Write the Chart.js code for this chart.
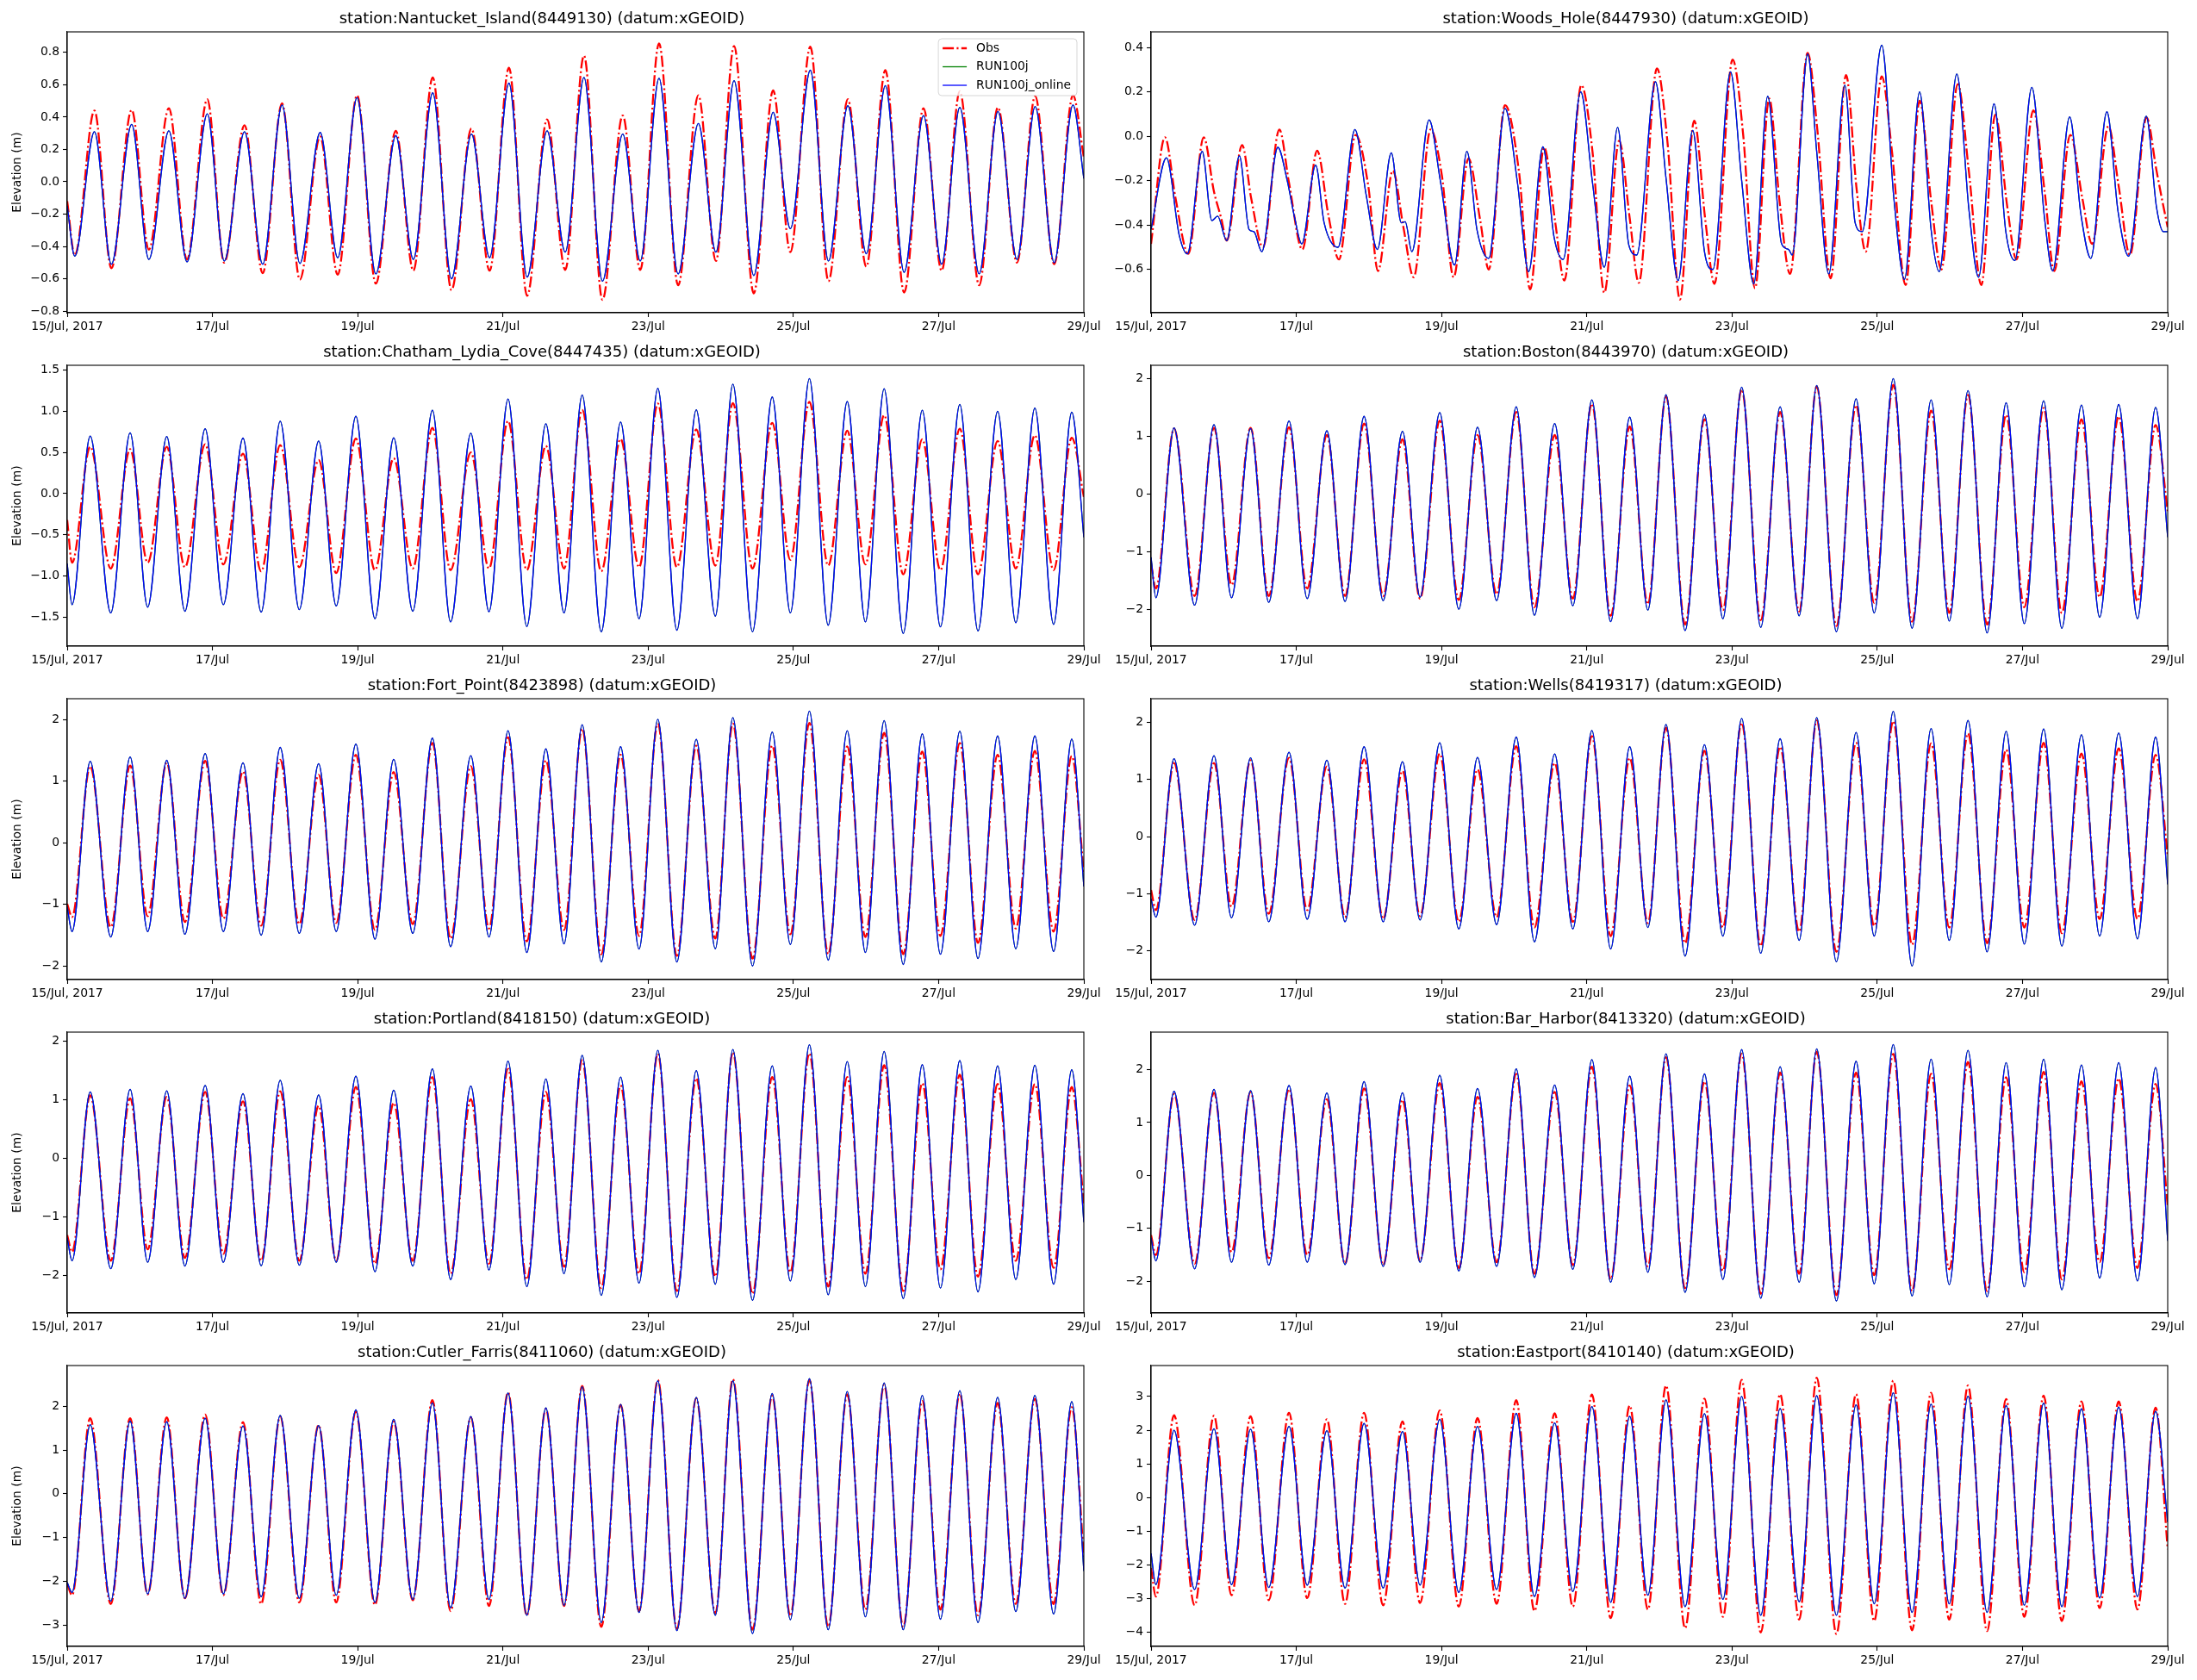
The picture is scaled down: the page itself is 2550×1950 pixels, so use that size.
<!DOCTYPE html>
<html>
<head>
<meta charset="utf-8">
<script src="https://cdn.jsdelivr.net/npm/chart.js@4.4.1/dist/chart.umd.min.js"></script>
<style>
  body { margin: 0; background: #fff; width: 2550px; height: 1950px; overflow: hidden; position: relative; }
  canvas { position: absolute; }
</style>
</head>
<body>
<script>
// x axis: hours since 15 Jul 2017 00:00
const dayHours = [0, 48, 96, 144, 192, 240, 288, 336];
const dayLabels = ['15/Jul, 2017', '17/Jul', '19/Jul', '21/Jul', '23/Jul', '25/Jul', '27/Jul', '29/Jul'];
const seriesNames = ['Obs', 'RUN100j', 'RUN100j_online'];

// times of low / high water (start, L, H, L, H ..., end)
const gomHours = [0, 1.6, 7.6, 14.4, 20.8, 26.6, 32.9, 38.9, 45.6, 51.6, 58.1, 64.1, 70.4, 76.7, 83.1, 88.9, 95.4,
  101.7, 107.9, 114.2, 120.7, 126.7, 133.4, 139.4, 145.7, 151.9, 158.2, 164.2, 170.2, 176.5, 182.9, 189.0, 195.2,
  201.5, 207.9, 214.2, 220.0, 226.5, 233.0, 239.0, 245.3, 251.5, 257.8, 263.8, 270.0, 276.3, 282.6, 288.6, 295.0,
  301.0, 307.5, 313.5, 319.8, 326.0, 332.0, 336];
const nantucketHours = [0, 2.5, 9.0, 14.6, 21.3, 27.0, 33.6, 39.6, 46.3, 51.9, 58.6, 64.6, 71.0, 76.9, 83.6, 89.4, 95.8,
  102.0, 108.6, 114.4, 120.8, 127.0, 133.6, 139.6, 146.0, 152.0, 158.6, 164.6, 170.8, 176.9, 183.6, 189.4, 195.6,
  201.9, 208.6, 214.4, 220.4, 226.9, 233.3, 239.0, 245.6, 251.6, 258.0, 264.1, 270.4, 276.6, 283.0, 289.0, 295.0,
  301.4, 307.6, 313.9, 319.9, 326.2, 332.4, 336];

const nantucketObs = [-0.12, -0.455, 0.44, -0.535, 0.445, -0.42, 0.455, -0.48, 0.51, -0.50, 0.35, -0.565, 0.485, -0.605, 0.28,
  -0.575, 0.535, -0.63, 0.315, -0.55, 0.645, -0.67, 0.33, -0.55, 0.705, -0.705, 0.385, -0.545, 0.78, -0.73, 0.41, -0.545, 0.855,
  -0.64, 0.535, -0.49, 0.84, -0.69, 0.565, -0.435, 0.835, -0.615, 0.51, -0.525, 0.69, -0.685, 0.455, -0.55, 0.56, -0.64, 0.46,
  -0.50, 0.53, -0.51, 0.535, 0.15];
const nantucketModel = [-0.15, -0.46, 0.31, -0.51, 0.355, -0.48, 0.315, -0.495, 0.42, -0.49, 0.31, -0.51, 0.475, -0.505, 0.305,
  -0.47, 0.52, -0.57, 0.285, -0.48, 0.55, -0.60, 0.295, -0.47, 0.61, -0.59, 0.315, -0.435, 0.645, -0.615, 0.295, -0.49, 0.64,
  -0.57, 0.36, -0.435, 0.625, -0.58, 0.43, -0.29, 0.69, -0.49, 0.47, -0.445, 0.595, -0.56, 0.41, -0.51, 0.46, -0.57, 0.435,
  -0.48, 0.465, -0.50, 0.475, 0.02];

// Woods Hole has shoulders on the ebb, so it keeps its own points
const woodsObsHours = [0, 4.6, 8.1, 12.3, 17.4, 20.8, 23.2, 25.0, 30.1, 33.1, 37.0, 42.4, 45.6, 50.0, 54.9, 58.6, 62.1,
  67.6, 71.8, 75.0, 79.9, 83.4, 86.8, 92.4, 96.1, 100.0, 104.9, 108.8, 111.6, 117.0, 121.6, 125.3, 129.9, 133.6, 136.6,
  142.2, 145.9, 149.8, 154.7, 158.2, 161.2, 167.2, 170.7, 174.8, 179.5, 183.2, 186.2, 192.2, 195.7, 199.6, 204.3, 207.7,
  211.2, 217.0, 220.2, 224.6, 229.7, 233.2, 236.2, 241.5, 244.8, 249.4, 254.0, 257.8, 261.2, 266.6, 270.3, 274.4, 279.0,
  283.0, 286.0, 291.6, 295.3, 298.5, 303.8, 307.8, 311.0, 316.4, 319.8, 323.5, 329.0, 332.3, 334.2, 336];
const woodsObs = [-0.485, -0.005, -0.28, -0.53, -0.005, -0.25, -0.37, -0.47, -0.04, -0.28, -0.50, 0.03, -0.21, -0.51,
  -0.065, -0.355, -0.555, 0.006, -0.225, -0.607, -0.155, -0.41, -0.635, 0.03, -0.175, -0.635, -0.10, -0.38, -0.60, 0.14,
  -0.16, -0.69, -0.05, -0.39, -0.65, 0.23, -0.07, -0.705, -0.02, -0.37, -0.66, 0.305, -0.03, -0.735, 0.07, -0.38, -0.665,
  0.345, 0.006, -0.685, 0.17, -0.29, -0.62, 0.375, 0.03, -0.64, 0.275, -0.24, -0.52, 0.27, -0.06, -0.67, 0.16, -0.29, -0.60,
  0.235, -0.16, -0.67, 0.097, -0.32, -0.555, 0.116, -0.245, -0.607, 0.006, -0.28, -0.485, 0.045, -0.225, -0.535, 0.084,
  -0.155, -0.29, -0.41];
const woodsModelHours = [0, 5.1, 9.3, 12.0, 16.9, 20.1, 22.0, 25.0, 29.2, 32.4, 34.0, 36.6, 41.9, 45.0, 47.5, 49.8, 54.4,
  57.2, 61.8, 67.4, 71.1, 74.8, 79.4, 82.7, 84.0, 86.2, 91.9, 95.6, 100.3, 104.4, 107.7, 111.6, 117.0, 121.1, 124.8, 129.5,
  133.2, 136.2, 142.0, 145.9, 149.8, 154.2, 157.9, 160.5, 166.7, 170.2, 174.2, 179.0, 182.9, 185.7, 191.5, 195.2, 199.2,
  203.8, 208.4, 210.7, 211.9, 217.0, 220.0, 224.0, 229.3, 232.7, 235.0, 241.5, 245.5, 249.0, 254.0, 257.8, 260.5, 266.3,
  270.3, 273.5, 278.6, 282.5, 285.5, 291.1, 295.3, 298.0, 303.6, 307.3, 310.6, 315.9, 319.6, 323.1, 328.9, 332.3, 334.6, 336];
const woodsModel = [-0.42, -0.097, -0.445, -0.53, -0.068, -0.38, -0.36, -0.47, -0.088, -0.42, -0.43, -0.52, -0.05, -0.20,
  -0.37, -0.485, -0.13, -0.39, -0.50, 0.03, -0.265, -0.51, -0.075, -0.39, -0.385, -0.52, 0.074, -0.20, -0.58, -0.068, -0.42,
  -0.55, 0.125, -0.21, -0.61, -0.048, -0.455, -0.555, 0.20, -0.21, -0.59, 0.04, -0.49, -0.535, 0.245, -0.19, -0.65, 0.026,
  -0.52, -0.60, 0.29, -0.20, -0.665, 0.18, -0.485, -0.51, -0.535, 0.37, -0.07, -0.62, 0.23, -0.39, -0.43, 0.41, -0.28,
  -0.645, 0.20, -0.42, -0.61, 0.28, -0.33, -0.635, 0.146, -0.43, -0.56, 0.22, -0.37, -0.607, 0.087, -0.35, -0.55, 0.11,
  -0.34, -0.54, 0.09, -0.32, -0.43, -0.43];

const chathamObs = [-0.32, -0.84, 0.57, -0.91, 0.54, -0.84, 0.57, -0.895, 0.60, -0.86, 0.485, -0.945, 0.59, -0.895, 0.41,
  -0.965, 0.67, -0.93, 0.43, -0.91, 0.80, -0.93, 0.50, -0.91, 0.885, -0.93, 0.58, -0.91, 1.02, -0.945, 0.665, -0.895, 1.095,
  -0.895, 0.78, -0.875, 1.10, -0.91, 0.86, -0.805, 1.115, -0.875, 0.765, -0.86, 0.955, -0.98, 0.66, -0.93, 0.79, -0.98, 0.64,
  -0.91, 0.71, -0.93, 0.68, -0.04];
const chathamModel = [-0.85, -1.35, 0.70, -1.45, 0.74, -1.38, 0.695, -1.43, 0.79, -1.35, 0.675, -1.44, 0.88, -1.41, 0.64,
  -1.365, 0.94, -1.52, 0.68, -1.43, 1.015, -1.56, 0.735, -1.435, 1.15, -1.615, 0.85, -1.45, 1.20, -1.68, 0.87, -1.52, 1.28,
  -1.66, 1.02, -1.49, 1.33, -1.68, 1.175, -1.45, 1.40, -1.60, 1.12, -1.56, 1.275, -1.70, 1.015, -1.62, 1.085, -1.67, 1.00,
  -1.57, 1.04, -1.59, 0.99, -0.53];

const bostonObs = [-1.2, -1.64, 1.135, -1.77, 1.145, -1.58, 1.145, -1.77, 1.155, -1.64, 1.02, -1.77, 1.22, -1.77, 0.945,
  -1.815, 1.27, -1.84, 1.02, -1.74, 1.42, -1.965, 1.02, -1.815, 1.565, -2.115, 1.17, -1.915, 1.69, -2.265, 1.295, -2.015, 1.815,
  -2.19, 1.42, -2.04, 1.865, -2.29, 1.54, -1.89, 1.89, -2.215, 1.445, -2.065, 1.715, -2.265, 1.37, -1.965, 1.49, -2.065, 1.295,
  -1.79, 1.345, -1.865, 1.195, -0.3];
const bostonModel = [-1.1, -1.80, 1.145, -1.93, 1.20, -1.80, 1.135, -1.88, 1.265, -1.815, 1.095, -1.865, 1.345, -1.85, 1.085,
  -1.79, 1.41, -2.00, 1.155, -1.85, 1.51, -2.105, 1.22, -1.94, 1.63, -2.215, 1.33, -2.015, 1.72, -2.37, 1.375, -2.165, 1.85,
  -2.315, 1.51, -2.115, 1.88, -2.39, 1.65, -2.065, 2.00, -2.33, 1.63, -2.205, 1.79, -2.41, 1.58, -2.25, 1.615, -2.33, 1.54,
  -2.14, 1.55, -2.165, 1.50, -0.75];

const fortPointObs = [-0.99, -1.205, 1.245, -1.37, 1.255, -1.19, 1.30, -1.285, 1.33, -1.23, 1.16, -1.345, 1.35, -1.32, 1.105,
  -1.30, 1.43, -1.415, 1.15, -1.32, 1.62, -1.555, 1.245, -1.39, 1.715, -1.60, 1.34, -1.415, 1.855, -1.81, 1.43, -1.51, 1.935,
  -1.835, 1.575, -1.555, 1.935, -1.88, 1.58, -1.485, 1.945, -1.81, 1.565, -1.53, 1.785, -1.81, 1.48, -1.51, 1.62, -1.625, 1.43,
  -1.39, 1.49, -1.44, 1.41, -0.48];
const fortPointModel = [-1.04, -1.44, 1.325, -1.53, 1.395, -1.44, 1.34, -1.485, 1.45, -1.44, 1.30, -1.50, 1.55, -1.47, 1.285,
  -1.44, 1.605, -1.565, 1.355, -1.47, 1.70, -1.685, 1.415, -1.53, 1.82, -1.78, 1.525, -1.64, 1.92, -1.935, 1.56, -1.725, 2.005,
  -1.935, 1.68, -1.72, 2.035, -2.00, 1.80, -1.65, 2.14, -1.905, 1.82, -1.78, 1.985, -1.975, 1.77, -1.81, 1.815, -1.88, 1.735,
  -1.72, 1.735, -1.765, 1.685, -0.71];

const wellsObs = [-0.935, -1.285, 1.285, -1.46, 1.285, -1.225, 1.335, -1.35, 1.375, -1.285, 1.225, -1.41, 1.35, -1.44, 1.15,
  -1.39, 1.45, -1.49, 1.175, -1.41, 1.58, -1.59, 1.285, -1.49, 1.755, -1.74, 1.375, -1.51, 1.905, -1.865, 1.50, -1.59, 1.99,
  -1.915, 1.57, -1.665, 2.03, -2.015, 1.64, -1.565, 2.02, -1.89, 1.63, -1.59, 1.805, -1.865, 1.52, -1.59, 1.64, -1.69, 1.45,
  -1.44, 1.54, -1.44, 1.43, -0.33];
const wellsModel = [-1.085, -1.41, 1.36, -1.55, 1.415, -1.42, 1.375, -1.49, 1.475, -1.445, 1.335, -1.49, 1.57, -1.49, 1.31,
  -1.46, 1.64, -1.615, 1.385, -1.54, 1.74, -1.84, 1.445, -1.615, 1.855, -1.965, 1.57, -1.59, 1.96, -2.09, 1.605, -1.74, 2.065,
  -2.04, 1.71, -1.815, 2.08, -2.19, 1.82, -1.74, 2.19, -2.265, 1.89, -1.815, 2.03, -2.015, 1.84, -1.88, 1.88, -1.915, 1.78,
  -1.74, 1.81, -1.79, 1.74, -0.835];

const portlandObs = [-1.31, -1.60, 1.07, -1.75, 1.02, -1.555, 1.045, -1.70, 1.13, -1.63, 0.97, -1.75, 1.14, -1.75, 0.895,
  -1.75, 1.215, -1.80, 0.945, -1.75, 1.385, -1.97, 1.005, -1.80, 1.525, -2.07, 1.13, -1.85, 1.67, -2.215, 1.24, -1.97, 1.78,
  -2.265, 1.365, -2.02, 1.805, -2.315, 1.385, -1.945, 1.79, -2.19, 1.385, -1.97, 1.585, -2.265, 1.28, -1.895, 1.425, -2.02, 1.265,
  -1.75, 1.265, -1.87, 1.215, -0.77];
const portlandModel = [-1.36, -1.75, 1.13, -1.885, 1.175, -1.775, 1.15, -1.84, 1.24, -1.775, 1.10, -1.835, 1.33, -1.825, 1.08,
  -1.775, 1.40, -1.935, 1.16, -1.84, 1.525, -2.07, 1.23, -1.905, 1.655, -2.19, 1.35, -1.97, 1.755, -2.34, 1.385, -2.13, 1.84,
  -2.375, 1.495, -2.15, 1.855, -2.425, 1.575, -2.095, 1.935, -2.33, 1.65, -2.19, 1.82, -2.395, 1.595, -2.215, 1.665, -2.28, 1.575,
  -2.07, 1.585, -2.15, 1.51, -1.09];

const barHarborObs = [-1.125, -1.505, 1.54, -1.67, 1.565, -1.45, 1.58, -1.56, 1.635, -1.505, 1.44, -1.67, 1.645, -1.695, 1.43,
  -1.615, 1.745, -1.75, 1.485, -1.64, 1.92, -1.86, 1.58, -1.695, 2.055, -1.965, 1.70, -1.72, 2.235, -2.13, 1.78, -1.805, 2.30,
  -2.24, 1.945, -1.86, 2.34, -2.265, 1.945, -1.885, 2.30, -2.185, 1.92, -1.775, 2.145, -2.185, 1.855, -1.83, 1.96, -1.965, 1.78,
  -1.64, 1.835, -1.75, 1.73, -0.58];
const barHarborModel = [-1.18, -1.615, 1.59, -1.765, 1.63, -1.64, 1.605, -1.695, 1.70, -1.64, 1.56, -1.685, 1.775, -1.72, 1.565,
  -1.64, 1.895, -1.805, 1.645, -1.72, 2.015, -1.93, 1.71, -1.775, 2.19, -2.02, 1.875, -1.83, 2.30, -2.21, 1.92, -1.965, 2.38,
  -2.32, 2.055, -2.02, 2.395, -2.375, 2.16, -2.05, 2.475, -2.28, 2.20, -2.065, 2.365, -2.295, 2.135, -2.105, 2.20, -2.16, 2.09,
  -1.94, 2.135, -1.995, 2.04, -1.235];

const cutlerObs = [-2.06, -2.32, 1.725, -2.52, 1.725, -2.30, 1.745, -2.39, 1.81, -2.32, 1.635, -2.52, 1.765, -2.485, 1.57,
  -2.485, 1.875, -2.54, 1.645, -2.435, 2.14, -2.685, 1.745, -2.565, 2.315, -2.78, 1.94, -2.565, 2.465, -3.045, 2.03, -2.685, 2.60,
  -3.09, 2.185, -2.735, 2.62, -3.11, 2.24, -2.80, 2.60, -3.045, 2.27, -2.65, 2.49, -3.045, 2.12, -2.65, 2.29, -2.78, 2.075,
  -2.52, 2.17, -2.52, 1.975, -1.44];
const cutlerModel = [-2.03, -2.255, 1.58, -2.455, 1.66, -2.29, 1.645, -2.39, 1.725, -2.29, 1.55, -2.355, 1.79, -2.39, 1.56,
  -2.32, 1.92, -2.485, 1.70, -2.42, 2.075, -2.605, 1.765, -2.42, 2.30, -2.78, 1.96, -2.55, 2.445, -2.945, 2.04, -2.715, 2.58,
  -3.13, 2.205, -2.78, 2.58, -3.195, 2.29, -2.88, 2.63, -3.11, 2.335, -2.815, 2.535, -3.11, 2.25, -2.87, 2.355, -2.945, 2.205,
  -2.695, 2.25, -2.75, 2.105, -1.765];

const eastportObs = [-2.09, -2.94, 2.445, -3.20, 2.43, -2.90, 2.41, -3.045, 2.515, -2.985, 2.325, -3.155, 2.515, -3.20, 2.26,
  -3.13, 2.585, -3.24, 2.36, -3.155, 2.89, -3.37, 2.50, -3.24, 3.06, -3.58, 2.73, -3.325, 3.325, -3.88, 2.94, -3.54, 3.495,
  -4.005, 3.07, -3.625, 3.555, -4.05, 3.07, -3.665, 3.47, -3.94, 3.11, -3.625, 3.325, -3.965, 2.925, -3.54, 3.025, -3.665, 2.855,
  -3.28, 2.855, -3.325, 2.67, -1.535];
const eastportModel = [-1.66, -2.585, 2.00, -2.73, 2.045, -2.585, 2.03, -2.67, 2.115, -2.60, 1.985, -2.685, 2.20, -2.685, 1.96,
  -2.60, 2.325, -2.815, 2.115, -2.73, 2.50, -2.94, 2.215, -2.79, 2.70, -3.11, 2.41, -2.90, 2.90, -3.24, 2.49, -3.025, 3.00,
  -3.495, 2.645, -3.095, 3.025, -3.495, 2.755, -3.155, 3.11, -3.41, 2.77, -3.155, 3.01, -3.41, 2.73, -3.195, 2.805, -3.24, 2.635,
  -2.985, 2.685, -2.94, 2.56, -0.725];

// y tick labels per panel
const ticksNantucket = [-0.8, -0.6, -0.4, -0.2, 0, 0.2, 0.4, 0.6, 0.8];
const ticksWoods = [-0.6, -0.4, -0.2, 0, 0.2, 0.4];
const ticksChatham = [-1.5, -1, -0.5, 0, 0.5, 1, 1.5];
const ticksTwo = [-2, -1, 0, 1, 2];
const ticksCutler = [-3, -2, -1, 0, 1, 2];
const ticksEastport = [-4, -3, -2, -1, 0, 1, 2, 3];

const panels = [
  { title: 'station:Nantucket_Island(8449130) (datum:xGEOID)', obsT: nantucketHours, obs: nantucketObs, modT: nantucketHours, mod: nantucketModel, ticks: ticksNantucket, dec: 1, min: -0.81, max: 0.927 },
  { title: 'station:Woods_Hole(8447930) (datum:xGEOID)', obsT: woodsObsHours, obs: woodsObs, modT: woodsModelHours, mod: woodsModel, ticks: ticksWoods, dec: 1, min: -0.795, max: 0.47 },
  { title: 'station:Chatham_Lydia_Cove(8447435) (datum:xGEOID)', obsT: gomHours, obs: chathamObs, modT: gomHours, mod: chathamModel, ticks: ticksChatham, dec: 1, min: -1.854, max: 1.56 },
  { title: 'station:Boston(8443970) (datum:xGEOID)', obsT: gomHours, obs: bostonObs, modT: gomHours, mod: bostonModel, ticks: ticksTwo, dec: 0, min: -2.64, max: 2.23 },
  { title: 'station:Fort_Point(8423898) (datum:xGEOID)', obsT: gomHours, obs: fortPointObs, modT: gomHours, mod: fortPointModel, ticks: ticksTwo, dec: 0, min: -2.22, max: 2.34 },
  { title: 'station:Wells(8419317) (datum:xGEOID)', obsT: gomHours, obs: wellsObs, modT: gomHours, mod: wellsModel, ticks: ticksTwo, dec: 0, min: -2.50, max: 2.41 },
  { title: 'station:Portland(8418150) (datum:xGEOID)', obsT: gomHours, obs: portlandObs, modT: gomHours, mod: portlandModel, ticks: ticksTwo, dec: 0, min: -2.64, max: 2.15 },
  { title: 'station:Bar_Harbor(8413320) (datum:xGEOID)', obsT: gomHours, obs: barHarborObs, modT: gomHours, mod: barHarborModel, ticks: ticksTwo, dec: 0, min: -2.60, max: 2.71 },
  { title: 'station:Cutler_Farris(8411060) (datum:xGEOID)', obsT: gomHours, obs: cutlerObs, modT: gomHours, mod: cutlerModel, ticks: ticksCutler, dec: 0, min: -3.49, max: 2.93 },
  { title: 'station:Eastport(8410140) (datum:xGEOID)', obsT: gomHours, obs: eastportObs, modT: gomHours, mod: eastportModel, ticks: ticksEastport, dec: 0, min: -4.42, max: 3.92 }
];

// layout (page pixels)
const FONT = 'DejaVu Sans';
const colLeft = [78, 1336];
const rowTop = [37, 424, 811, 1198, 1585];
const PLOT_W = 1180, PLOT_H = 326;
// right pad equals the axis width so the title centres over the plot, as in matplotlib
const AXIS_W = 78, TITLE_H = 37, XAXIS_H = 40, RIGHT_PAD = 78;

Chart.defaults.font.family = FONT;
Chart.defaults.color = '#000';

const frame = {
  id: 'frame',
  afterDraw(chart) {
    const a = chart.chartArea, ctx = chart.ctx;
    ctx.save();
    ctx.strokeStyle = '#000';
    ctx.lineWidth = 1.1;
    ctx.strokeRect(a.left, a.top, a.right - a.left, a.bottom - a.top);
    ctx.restore();
  }
};

// matplotlib style legend box in the upper right of the plot area
const legendBox = {
  id: 'legendBox',
  afterDatasetsDraw(chart, args, opts) {
    if (!opts.show) return;
    const ctx = chart.ctx, a = chart.chartArea;
    const sets = chart.data.datasets;
    ctx.save();
    ctx.font = '13.9px ' + FONT;
    const textW = Math.max(...sets.map(d => ctx.measureText(d.label).width));
    const w = 44 + textW + 7, h = 66;
    const x0 = a.right - 8 - w, y0 = a.top + 8;
    ctx.beginPath();
    ctx.roundRect(x0, y0, w, h, 4);
    ctx.fillStyle = 'rgba(255,255,255,0.8)';
    ctx.fill();
    ctx.strokeStyle = 'rgba(204,204,204,0.8)';
    ctx.lineWidth = 1;
    ctx.stroke();
    sets.forEach((d, k) => {
      const y = y0 + 11 + k * 21.5;
      ctx.beginPath();
      ctx.setLineDash(d.borderDash || []);
      ctx.strokeStyle = d.borderColor;
      ctx.lineWidth = d.borderWidth;
      ctx.moveTo(x0 + 5, y);
      ctx.lineTo(x0 + 33, y);
      ctx.stroke();
      ctx.setLineDash([]);
      ctx.fillStyle = '#000';
      ctx.textBaseline = 'middle';
      ctx.fillText(d.label, x0 + 44, y);
    });
    ctx.restore();
  }
};

function fmt(v, dec) {
  return v.toFixed(dec).replace('-', '\u2212');
}

function points(t, v) {
  const n = Math.min(t.length, v.length);
  const out = [];
  for (let k = 0; k < n; k++) out.push({ x: t[k], y: v[k] });
  return out;
}

panels.forEach((p, i) => {
  const col = i % 2, row = Math.floor(i / 2);
  const cv = document.createElement('canvas');
  cv.width = AXIS_W + PLOT_W + RIGHT_PAD;
  cv.height = TITLE_H + PLOT_H + XAXIS_H;
  cv.style.left = (colLeft[col] - AXIS_W) + 'px';
  cv.style.top = (rowTop[row] - TITLE_H) + 'px';
  document.body.appendChild(cv);

  const model = points(p.modT, p.mod);
  new Chart(cv, {
    type: 'line',
    data: {
      datasets: [
        { label: seriesNames[0], data: points(p.obsT, p.obs), borderColor: '#ff0000', borderWidth: 2.3, borderDash: [13, 3.3, 2.1, 3.3], order: 2 },
        { label: seriesNames[1], data: model, borderColor: '#008000', borderWidth: 1.3, order: 1 },
        { label: seriesNames[2], data: model, borderColor: '#0000ff', borderWidth: 1.3, order: 0 }
      ]
    },
    options: {
      responsive: false,
      animation: false,
      devicePixelRatio: 1,
      parsing: false,
      elements: {
        point: { radius: 0 },
        line: { cubicInterpolationMode: 'monotone', fill: false }
      },
      layout: { padding: { top: 0, right: RIGHT_PAD, bottom: 0, left: 0 } },
      plugins: {
        legend: { display: false },
        tooltip: { enabled: false },
        title: {
          display: true, text: p.title, color: '#000',
          font: { family: FONT, size: 18, weight: 'normal', lineHeight: 1.2 },
          padding: { top: 12, bottom: 3.4 }
        },
        legendBox: { show: i === 0 }
      },
      scales: {
        x: {
          type: 'linear', min: 0, max: 336,
          afterBuildTicks: s => { s.ticks = dayHours.map(v => ({ value: v })); },
          afterFit: s => { s.height = XAXIS_H; s.paddingLeft = 0; s.paddingRight = 0; },
          ticks: { autoSkip: false, maxRotation: 0, padding: 3, color: '#000', font: { family: FONT, size: 13.9 },
                   callback: (v, k) => dayLabels[k] },
          grid: { drawOnChartArea: false, drawTicks: true, tickLength: 5, tickWidth: 1.1, tickColor: '#000' },
          border: { display: true, color: '#000', width: 1.1 }
        },
        y: {
          type: 'linear', min: p.min, max: p.max,
          afterBuildTicks: s => { s.ticks = p.ticks.map(v => ({ value: v })); },
          afterFit: s => { s.width = AXIS_W; s.paddingTop = 0; s.paddingBottom = 0; },
          ticks: { autoSkip: false, padding: 4, color: '#000', font: { family: FONT, size: 13.9 },
                   callback: v => fmt(v, p.dec) },
          grid: { drawOnChartArea: false, drawTicks: true, tickLength: 5, tickWidth: 1.1, tickColor: '#000' },
          border: { display: true, color: '#000', width: 1.1 },
          title: { display: col === 0, text: 'Elevation (m)', color: '#000', font: { family: FONT, size: 13.9 },
                   padding: { top: 12, bottom: 0 } }
        }
      }
    },
    plugins: [frame, legendBox]
  });
});
</script>
</body>
</html>
